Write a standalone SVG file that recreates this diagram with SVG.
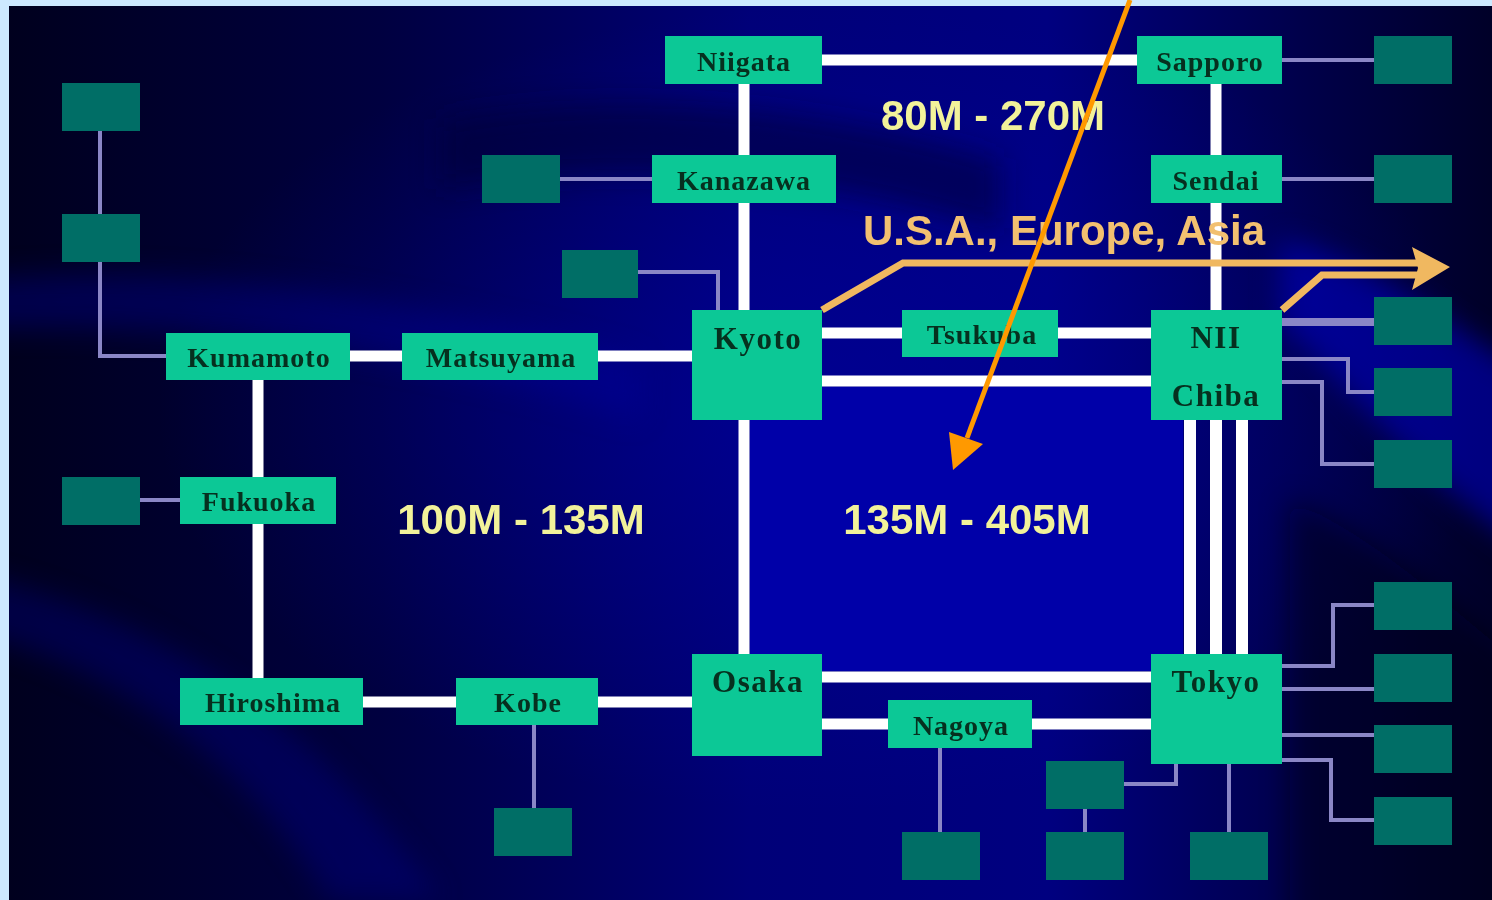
<svg xmlns="http://www.w3.org/2000/svg" width="1492" height="900" viewBox="0 0 1492 900">
<defs>
<linearGradient id="bg" x1="0" y1="0" x2="1" y2="0">
<stop offset="0" stop-color="#00001e"/>
<stop offset="0.25" stop-color="#000040"/>
<stop offset="0.5" stop-color="#000078"/>
<stop offset="0.7" stop-color="#000080"/>
<stop offset="0.88" stop-color="#000048"/>
<stop offset="1" stop-color="#000028"/>
</linearGradient>
<radialGradient id="glow" cx="0.55" cy="0.45" r="0.45">
<stop offset="0" stop-color="#0000a0" stop-opacity="0.6"/>
<stop offset="1" stop-color="#0000a0" stop-opacity="0"/>
</radialGradient>
<filter id="blur" x="-20%" y="-20%" width="140%" height="140%"><feGaussianBlur stdDeviation="14"/></filter>
<clipPath id="panel"><rect x="9" y="6" width="1483" height="894"/></clipPath>
<style>
.n{fill:#0cc896}
.t{fill:#006e66}
.w{stroke:#ffffff;stroke-width:11;fill:none}
.p{stroke:#8a86c6;stroke-width:4;fill:none}
.lb{font-family:"Liberation Serif",serif;font-weight:bold;font-size:28px;letter-spacing:1px;fill:#06301f;text-anchor:middle}
.lg{font-family:"Liberation Serif",serif;font-weight:bold;font-size:31px;letter-spacing:1.5px;fill:#06301f;text-anchor:middle}
.y{font-family:"Liberation Sans",Arial,sans-serif;font-weight:bold;font-size:42px;fill:#f2f29a;text-anchor:middle}
.u{font-family:"Liberation Sans",Arial,sans-serif;font-weight:bold;font-size:42px;fill:#f2c070;text-anchor:middle}
.tan{stroke:#f0b860;stroke-width:7;fill:none}
</style>
</defs>
<rect width="1492" height="900" fill="#cde9ff"/>
<rect x="9" y="6" width="1483" height="894" fill="url(#bg)"/>
<rect x="9" y="6" width="1483" height="894" fill="url(#glow)"/>
<g clip-path="url(#panel)">
<g id="background" filter="url(#blur)">
<path d="M-40,280 C200,260 420,300 640,360 L640,420 C420,350 200,320 -40,330 z" fill="#0000a0" opacity="0.35"/>
<path d="M-40,570 C180,620 330,740 440,900 L330,900 C250,770 130,670 -40,630 z" fill="#0000a0" opacity="0.3"/>
<path d="M440,120 C600,90 800,100 1000,160 L1000,230 C800,170 600,160 440,190 z" fill="#000030" opacity="0.5"/>
<path d="M1280,240 C1370,260 1440,320 1540,380 L1540,560 C1420,480 1350,390 1280,320 z" fill="#0000c8" opacity="0.55"/>
<path d="M1290,500 C1380,540 1440,600 1540,680 L1540,950 L1290,950 z" fill="#000018" opacity="0.5"/>
</g>
</g>
<rect x="750" y="387" width="433" height="284" fill="#0000a8"/>
<g id="connectors">
<path class="p" d="M100,131 V214 M100,262 V356 H166"/>
<path class="p" d="M140,500 H180"/>
<path class="p" d="M560,179 H652"/>
<path class="p" d="M638,272 H718 V310"/>
<path class="p" d="M1282,60 H1374 M1282,179 H1374"/>
<path class="p" d="M1282,322 H1374" style="stroke-width:8"/>
<path class="p" d="M1282,359 H1348 V392 H1374"/>
<path class="p" d="M1282,382 H1322 V464 H1374"/>
<path class="p" d="M1282,666 H1333 V605 H1374"/>
<path class="p" d="M1282,689 H1374 M1282,735 H1374"/>
<path class="p" d="M1282,760 H1331 V820 H1374"/>
<path class="p" d="M1229,764 V832"/>
<path class="p" d="M1176,764 V784 H1124"/>
<path class="p" d="M1085,809 V832"/>
<path class="p" d="M940,748 V832"/>
<path class="p" d="M534,725 V808"/>
<path class="w" d="M822,60 H1137"/>
<path class="w" d="M744,84 V155 M744,203 V310 M744,420 V654"/>
<path class="w" d="M1216,84 V155 M1216,203 V310"/>
<path class="w" d="M822,333 H902 M1058,333 H1151"/>
<path class="w" d="M822,381 H1151"/>
<path class="w" d="M350,356 H402 M598,356 H692"/>
<path class="w" d="M258,380 V477 M258,524 V678"/>
<path class="w" d="M363,702 H456 M598,702 H692"/>
<path class="w" d="M822,677 H1151"/>
<path class="w" d="M822,724 H888 M1032,724 H1151"/>
<path class="w" d="M1190,420 V654 M1216,420 V654 M1242,420 V654" style="stroke-width:12"/>
<path class="tan" d="M822,310 L903,263 H1422"/>
<path class="tan" d="M1282,310 L1322,275 H1422"/>
<path d="M1412,247 L1450,267 L1412,290 L1418,268 z" fill="#f0b860"/>
</g>
<g id="teal-boxes">
<rect class="t" x="62" y="83" width="78" height="48"/>
<rect class="t" x="62" y="214" width="78" height="48"/>
<rect class="t" x="62" y="477" width="78" height="48"/>
<rect class="t" x="482" y="155" width="78" height="48"/>
<rect class="t" x="562" y="250" width="76" height="48"/>
<rect class="t" x="1374" y="36" width="78" height="48"/>
<rect class="t" x="1374" y="155" width="78" height="48"/>
<rect class="t" x="1374" y="297" width="78" height="48"/>
<rect class="t" x="1374" y="368" width="78" height="48"/>
<rect class="t" x="1374" y="440" width="78" height="48"/>
<rect class="t" x="1374" y="582" width="78" height="48"/>
<rect class="t" x="1374" y="654" width="78" height="48"/>
<rect class="t" x="1374" y="725" width="78" height="48"/>
<rect class="t" x="1374" y="797" width="78" height="48"/>
<rect class="t" x="1046" y="761" width="78" height="48"/>
<rect class="t" x="1046" y="832" width="78" height="48"/>
<rect class="t" x="1190" y="832" width="78" height="48"/>
<rect class="t" x="902" y="832" width="78" height="48"/>
<rect class="t" x="494" y="808" width="78" height="48"/>
</g>
<g id="niigata"><rect class="n" x="665" y="36" width="157" height="48"/><text class="lb" x="744" y="71">Niigata</text></g>
<g id="sapporo"><rect class="n" x="1137" y="36" width="145" height="48"/><text class="lb" x="1210" y="71">Sapporo</text></g>
<g id="kanazawa"><rect class="n" x="652" y="155" width="184" height="48"/><text class="lb" x="744" y="190">Kanazawa</text></g>
<g id="sendai"><rect class="n" x="1151" y="155" width="131" height="48"/><text class="lb" x="1216" y="190">Sendai</text></g>
<g id="kyoto"><rect class="n" x="692" y="310" width="130" height="110"/><text class="lg" x="758" y="349">Kyoto</text></g>
<g id="tsukuba"><rect class="n" x="902" y="310" width="156" height="47"/><text class="lb" x="982" y="344">Tsukuba</text></g>
<g id="nii-chiba"><rect class="n" x="1151" y="310" width="131" height="110"/><text class="lg" x="1216" y="348">NII</text><text class="lg" x="1216" y="406">Chiba</text></g>
<g id="kumamoto"><rect class="n" x="166" y="333" width="184" height="47"/><text class="lb" x="259" y="367">Kumamoto</text></g>
<g id="matsuyama"><rect class="n" x="402" y="333" width="196" height="47"/><text class="lb" x="501" y="367">Matsuyama</text></g>
<g id="fukuoka"><rect class="n" x="180" y="477" width="156" height="47"/><text class="lb" x="259" y="511">Fukuoka</text></g>
<g id="hiroshima"><rect class="n" x="180" y="678" width="183" height="47"/><text class="lb" x="273" y="712">Hiroshima</text></g>
<g id="kobe"><rect class="n" x="456" y="678" width="142" height="47"/><text class="lb" x="528" y="712">Kobe</text></g>
<g id="osaka"><rect class="n" x="692" y="654" width="130" height="102"/><text class="lg" x="758" y="692">Osaka</text></g>
<g id="nagoya"><rect class="n" x="888" y="700" width="144" height="48"/><text class="lb" x="961" y="735">Nagoya</text></g>
<g id="tokyo"><rect class="n" x="1151" y="654" width="131" height="110"/><text class="lg" x="1216" y="692">Tokyo</text></g>
<g id="labels">
<text class="y" x="993" y="130">80M - 270M</text>
<text class="u" x="1064" y="245">U.S.A., Europe, Asia</text>
<text class="y" x="521" y="534">100M - 135M</text>
<text class="y" x="967" y="534">135M - 405M</text>
</g>
<g id="pointer">
<line x1="1130" y1="0" x2="967" y2="438" stroke="#ff9900" stroke-width="5"/>
<path d="M949,432 L983,444 L953,470 z" fill="#ff9900"/>
</g>
</svg>
